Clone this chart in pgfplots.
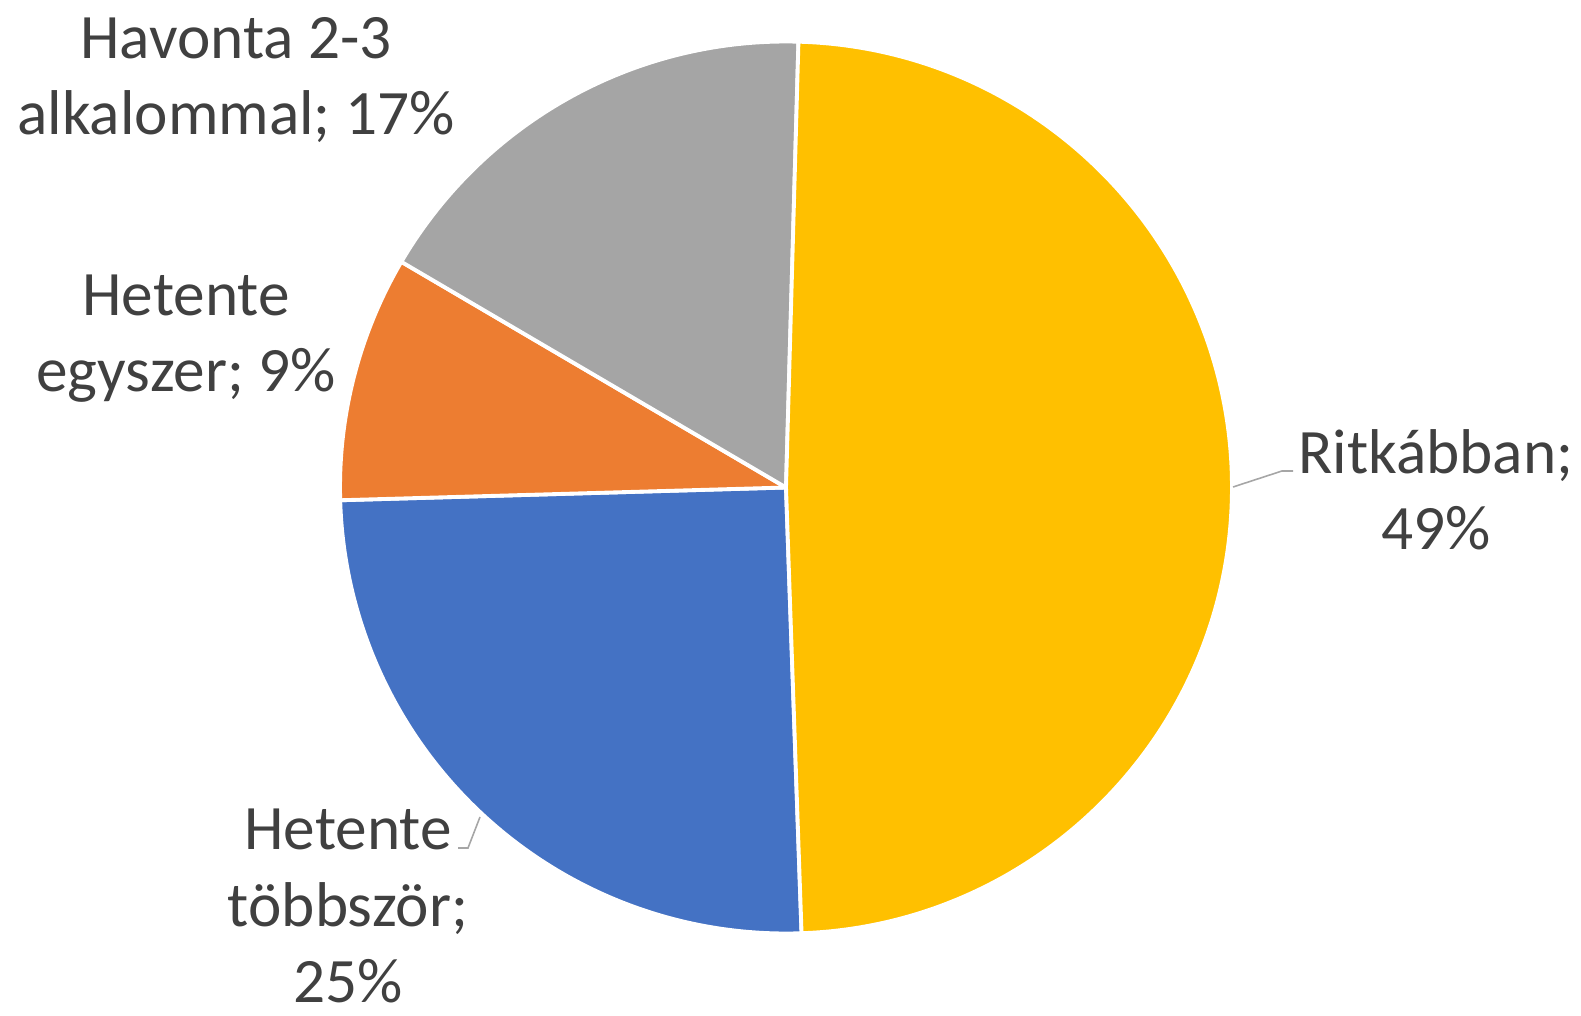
\documentclass[border=0pt]{standalone}
\usepackage{pgfplots}
\pgfplotsset{compat=1.18}
\usepackage{pgfplotstable}
\usepackage{fontspec}
\setmainfont{Carlito}
\definecolor{pc0}{HTML}{4472C4}
\definecolor{pc1}{HTML}{ED7D31}
\definecolor{pc2}{HTML}{A5A5A5}
\definecolor{pc3}{HTML}{FFC000}
\definecolor{txt}{HTML}{404040}
\definecolor{lead}{HTML}{A6A6A6}

% share of answers, clockwise from the bottom
\pgfplotstableread[col sep=comma]{
label,value
Hetente többször,25.1
Hetente egyszer,8.9
Havonta 2-3 alkalommal,17.0
Ritkábban,49.0
}\piedata

\begin{document}
\begin{tikzpicture}
% slice angles from the table
\def\piestart{-88}
\xdef\cum{0}
\foreach \i in {0,...,3}{
  \pgfplotstablegetelem{\i}{value}\of\piedata
  \pgfmathsetmacro\a{\piestart-3.6*\cum}
  \pgfmathsetmacro\b{\piestart-3.6*(\cum+\pgfplotsretval)}
  \pgfmathsetmacro\c{\cum+\pgfplotsretval}
  \expandafter\xdef\csname sa\i\endcsname{\a}
  \expandafter\xdef\csname sb\i\endcsname{\b}
  \xdef\cum{\c}
}
\useasboundingbox (0,0) rectangle (15.81cm,10.16cm);
\begin{axis}[
  at={(0,0)}, anchor=south west,
  scale only axis, width=15.81cm, height=10.16cm,
  xmin=0, xmax=1581, ymin=0, ymax=1016,
  enlargelimits=false, hide axis, clip=false,
]
\pgfplotsinvokeforeach{0,...,3}{
  \fill[pc#1, draw=white, line width=1.1pt, line join=round]
    (axis cs:786,528.5) -- ++(\csname sa#1\endcsname:4.46cm)
    arc[start angle=\csname sa#1\endcsname, end angle=\csname sb#1\endcsname, radius=4.46cm] -- cycle;
}
% leader lines
\addplot[lead, line width=0.45pt, no markers] coordinates {(1233,529) (1282,545) (1293,545)};
\addplot[lead, line width=0.45pt, no markers] coordinates {(480,199) (468,168) (458,168)};
% data labels (anchor = baseline of the last line)
\begin{scope}[every node/.style={font=\fontsize{18}{21.9}\selectfont, text=txt, align=center, anchor=base, inner sep=0pt}]
\node at (axis cs:236,881) {Havonta 2-3\\alkalommal; 17\%};
\node at (axis cs:186,624) {Hetente\\egyszer; 9\%};
\node at (axis cs:1436,466) {Ritkábban;\\49\%};
\node at (axis cs:348,13) {Hetente\\többször;\\25\%};
\end{scope}
\end{axis}
\end{tikzpicture}
\end{document}
